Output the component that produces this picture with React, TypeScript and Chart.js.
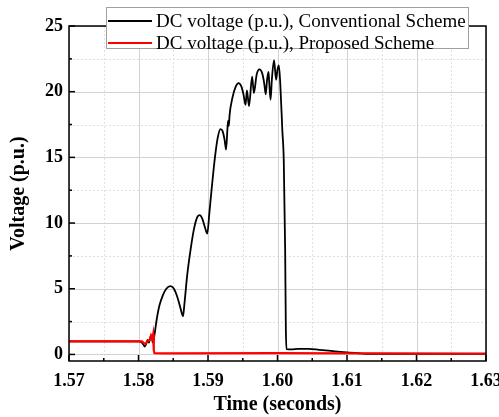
import React, { useEffect, useRef } from "react";
import { Chart, registerables } from "chart.js";

Chart.register(...registerables);

const FONT = "'Liberation Serif', 'Times New Roman', serif";

const xTickValues = [1.57, 1.58, 1.59, 1.6, 1.61, 1.62, 1.63];
const xMinorValues = [1.575, 1.585, 1.595, 1.605, 1.615, 1.625];
const yTickValues = [0, 5, 10, 15, 20, 25];
const yMinorValues = [2.5, 7.5, 12.5, 17.5, 22.5];

const seriesLabels = [
  "DC voltage (p.u.), Conventional Scheme",
  "DC voltage (p.u.), Proposed Scheme",
];
const seriesColors = ["#000000", "#ff0000"];

const conventionalTime = [
  1.57, 1.58, 1.5804, 1.5807, 1.5809, 1.5811, 1.5813, 1.5815, 1.5817, 1.5819,
  1.582, 1.5821, 1.5823, 1.5826, 1.583, 1.5835, 1.584, 1.5846, 1.5851, 1.5855,
  1.5859, 1.5862, 1.5864, 1.5866, 1.587, 1.5875, 1.588, 1.5885, 1.5888, 1.5892,
  1.5896, 1.5899, 1.5902, 1.5906, 1.591, 1.5914, 1.5918, 1.5921, 1.5924, 1.5926,
  1.5928, 1.5929, 1.593, 1.5931, 1.5935, 1.594, 1.5944, 1.5948, 1.5951, 1.5954,
  1.5956, 1.5959, 1.59635, 1.5966, 1.597, 1.5974, 1.5978, 1.5981, 1.5983, 1.5985,
  1.5987, 1.5988, 1.599, 1.5992, 1.5995, 1.5998, 1.6, 1.6002, 1.6004, 1.6007,
  1.6009, 1.6011, 1.6012, 1.6013, 1.602, 1.603, 1.6045, 1.606, 1.608, 1.61,
  1.612, 1.613, 1.63,
];
const conventionalVoltage = [
  1.0, 1.0, 0.95, 0.75, 0.6, 0.8, 1.1, 0.9, 1.3, 1.45,
  1.0, 0.9, 1.5, 2.6, 3.7, 4.5, 5.0, 5.2, 5.0, 4.5,
  3.8, 3.2, 2.9, 3.8, 6.0, 8.0, 9.6, 10.5, 10.6, 10.3,
  9.6, 9.2, 10.8, 13.0, 15.0, 16.5, 17.15, 17.0, 16.3, 15.6,
  17.2, 17.8, 17.4, 18.2, 19.5, 20.4, 20.65, 20.4, 19.8, 19.0,
  20.1, 18.9, 21.15, 19.9, 21.3, 21.7, 21.4, 20.6, 19.8, 20.9,
  21.5, 20.8, 19.4, 21.0, 22.4, 20.9, 21.7, 22.0, 20.6, 17.0,
  14.8, 8.0, 2.0, 0.4, 0.38, 0.42, 0.42, 0.35, 0.25, 0.15,
  0.08, 0.05, 0.05,
];

const proposedTime = [
  1.57, 1.5805, 1.5808, 1.581, 1.5813, 1.5816, 1.5818, 1.582, 1.5821, 1.5822,
  1.5823, 1.5835, 1.6, 1.63,
];
const proposedVoltage = [
  1.0, 1.0, 0.85, 0.8, 1.0, 1.1, 1.45, 1.2, 1.5, 0.3,
  0.1, 0.08, 0.1, 0.05,
];

function line(ctx: CanvasRenderingContext2D, x1: number, y1: number, x2: number, y2: number) {
  ctx.beginPath();
  ctx.moveTo(x1, y1);
  ctx.lineTo(x2, y2);
  ctx.stroke();
}

const framePlugin = {
  id: "frameAndGrid",
  beforeDatasetsDraw(chart: any) {
    const { ctx, chartArea: a, scales } = chart;
    const x = scales.x;
    const y = scales.y;
    ctx.save();
    ctx.lineWidth = 1;
    ctx.strokeStyle = "#e0e0e0";
    ctx.setLineDash([2, 2]);
    for (const v of xMinorValues) {
      const p = Math.round(x.getPixelForValue(v)) + 0.5;
      line(ctx, p, a.top, p, a.bottom);
    }
    for (const v of yMinorValues) {
      const p = Math.round(y.getPixelForValue(v)) + 0.5;
      line(ctx, a.left, p, a.right, p);
    }
    ctx.setLineDash([]);
    ctx.strokeStyle = "#d2d2d2";
    for (const v of xTickValues) {
      const p = Math.round(x.getPixelForValue(v)) + 0.5;
      line(ctx, p, a.top, p, a.bottom);
    }
    for (const v of yTickValues) {
      const p = Math.round(y.getPixelForValue(v)) + 0.5;
      line(ctx, a.left, p, a.right, p);
    }
    ctx.restore();
  },
  afterDatasetsDraw(chart: any) {
    const { ctx, chartArea: a, scales } = chart;
    const x = scales.x;
    const y = scales.y;
    ctx.save();
    ctx.strokeStyle = "#000";
    ctx.lineWidth = 1.5;
    ctx.setLineDash([]);
    ctx.strokeRect(a.left, a.top, a.right - a.left, a.bottom - a.top);
    ctx.lineWidth = 1.5;
    for (const v of xTickValues) {
      const p = x.getPixelForValue(v);
      line(ctx, p, a.bottom, p, a.bottom - 6);
    }
    for (const v of xMinorValues) {
      const p = x.getPixelForValue(v);
      line(ctx, p, a.bottom, p, a.bottom - 3);
    }
    for (const v of yTickValues) {
      const p = y.getPixelForValue(v);
      line(ctx, a.left, p, a.left + 6, p);
    }
    for (const v of yMinorValues) {
      const p = y.getPixelForValue(v);
      line(ctx, a.left, p, a.left + 3, p);
    }
    // legend
    const bx = 106.5, by = 7.5, bw = 362, bh = 41;
    ctx.fillStyle = "#fff";
    ctx.fillRect(bx, by, bw, bh);
    ctx.strokeStyle = "#a0a0a0";
    ctx.lineWidth = 1;
    ctx.strokeRect(bx, by, bw, bh);
    const rows = [21, 43];
    ctx.font = `19px ${FONT}`;
    ctx.textBaseline = "middle";
    ctx.textAlign = "left";
    seriesLabels.forEach((label, i) => {
      ctx.strokeStyle = seriesColors[i];
      ctx.lineWidth = 2;
      line(ctx, 108, rows[i], 152, rows[i]);
      ctx.fillStyle = "#000";
      ctx.fillText(label, 156, rows[i] + 1);
    });
    ctx.restore();
  },
};

export default function App() {
  const ref = useRef<HTMLCanvasElement | null>(null);
  useEffect(() => {
    document.body.style.margin = "0";
    const canvas = ref.current;
    if (!canvas) return;
    const conv = conventionalTime.map((t, i) => ({ x: t, y: conventionalVoltage[i] }));
    const prop = proposedTime.map((t, i) => ({ x: t, y: proposedVoltage[i] }));
    const chart = new Chart(canvas, {
      type: "line",
      data: {
        datasets: [
          {
            label: seriesLabels[1],
            data: prop,
            borderColor: seriesColors[1],
            borderWidth: 2.2,
            pointRadius: 0,
            tension: 0,
          },
          {
            label: seriesLabels[0],
            data: conv,
            borderColor: seriesColors[0],
            borderWidth: 1.8,
            pointRadius: 0,
            cubicInterpolationMode: "monotone",
          },
        ],
      },
      options: {
        responsive: false,
        animation: false,
        layout: { padding: { top: 26, right: 13, left: 0, bottom: 0 } },
        plugins: { legend: { display: false }, tooltip: { enabled: false } },
        scales: {
          x: {
            type: "linear",
            min: 1.57,
            max: 1.63,
            afterBuildTicks: (s: any) => {
              s.ticks = xTickValues.map((v) => ({ value: v }));
            },
            afterFit: (s: any) => {
              s.height = 56;
              s.paddingLeft = 0;
              s.paddingRight = 0;
            },
            grid: { display: false, drawTicks: false },
            border: { display: false },
            ticks: {
              autoSkip: false,
              maxRotation: 0,
              padding: 10,
              color: "#000",
              font: { family: FONT, size: 18, weight: "bold" },
              callback: (v: any) => Number(v).toFixed(2),
            },
            title: {
              display: true,
              text: "Time (seconds)",
              color: "#000",
              font: { family: FONT, size: 20, weight: "bold" },
              padding: { top: 0, bottom: 0 },
            },
          },
          y: {
            type: "linear",
            min: -0.5,
            max: 25,
            afterBuildTicks: (s: any) => {
              s.ticks = yTickValues.map((v) => ({ value: v }));
            },
            afterFit: (s: any) => {
              s.width = 69;
              s.paddingTop = 0;
              s.paddingBottom = 0;
            },
            grid: { display: false, drawTicks: false },
            border: { display: false },
            ticks: {
              padding: 6,
              color: "#000",
              font: { family: FONT, size: 18, weight: "bold" },
              callback: (v: any) => String(v),
            },
            title: {
              display: true,
              text: "Voltage (p.u.)",
              color: "#000",
              font: { family: FONT, size: 20, weight: "bold" },
              padding: { top: 7, bottom: 0 },
            },
          },
        },
      },
      plugins: [framePlugin],
    });
    return () => chart.destroy();
  }, []);
  return (
    <canvas
      ref={ref}
      width={499}
      height={417}
      style={{ display: "block", width: 499, height: 417 }}
    />
  );
}
